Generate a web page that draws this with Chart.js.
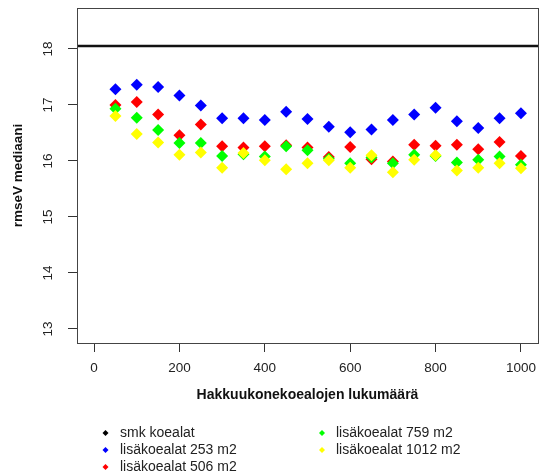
<!DOCTYPE html>
<html>
<head>
<meta charset="utf-8">
<script src="https://cdn.jsdelivr.net/npm/chart.js@4.4.1/dist/chart.umd.min.js"></script>
<style>
  html, body { margin: 0; padding: 0; background: #fff; }
</style>
</head>
<body>
<canvas id="rmse-chart" width="539" height="474"></canvas>
<script>
// number of harvester plots (x)
const plotCounts = [50, 100, 150, 200, 250, 300, 350, 400, 450, 500,
                    550, 600, 650, 700, 750, 800, 850, 900, 950, 1000];

// reference level: smk plots only
const smkValue = 18.05;

const area253 = [17.28, 17.36, 17.32, 17.17, 16.99, 16.76, 16.76, 16.73, 16.88, 16.75,
                 16.61, 16.51, 16.56, 16.73, 16.83, 16.95, 16.71, 16.59, 16.76, 16.85];
const area506 = [17.00, 17.05, 16.83, 16.46, 16.65, 16.26, 16.24, 16.26, 16.28, 16.24,
                 16.07, 16.25, 16.03, 15.99, 16.29, 16.27, 16.29, 16.21, 16.34, 16.09];
const area759 = [16.93, 16.77, 16.55, 16.32, 16.32, 16.09, 16.12, 16.08, 16.26, 16.19,
                 16.04, 15.96, 16.06, 15.96, 16.11, 16.09, 15.97, 16.02, 16.08, 15.93];
const area1012 = [16.80, 16.48, 16.33, 16.11, 16.15, 15.88, 16.14, 16.01, 15.85, 15.96,
                  16.01, 15.88, 16.10, 15.80, 16.02, 16.10, 15.83, 15.88, 15.96, 15.87];

const seriesLabels = ["smk koealat", "lisäkoealat 253 m2", "lisäkoealat 506 m2",
                      "lisäkoealat 759 m2", "lisäkoealat 1012 m2"];
const seriesColors = ["#000000", "#0000ff", "#ff0000", "#00ff00", "#ffff00"];

const xTicks = [0, 200, 400, 600, 800, 1000];
const yTicks = [13, 14, 15, 16, 17, 18];
const xLimits = [-40, 1040];
const yLimits = [12.75, 18.73];

const fontFamily = '"Liberation Sans", Arial, sans-serif';

function toPoints(values){
  return plotCounts.map(function(x, i){ return {x: x, y: values[i]}; });
}

function scatterSet(idx, values){
  return {
    type: 'scatter',
    label: seriesLabels[idx],
    data: toPoints(values),
    pointStyle: 'rectRot',
    pointRadius: 6,
    pointHoverRadius: 6,
    borderWidth: 0,
    backgroundColor: seriesColors[idx],
    borderColor: seriesColors[idx],
    order: 5 - idx
  };
}

// R-style box around the plot region
const plotFrame = {
  id: 'plotFrame',
  afterDraw(chart){
    const a = chart.chartArea;
    const ctx = chart.ctx;
    ctx.save();
    ctx.strokeStyle = '#444';
    ctx.lineWidth = 1;
    ctx.strokeRect(a.left + 0.5, a.top + 0.5, a.right - a.left, a.bottom - a.top);
    ctx.restore();
  }
};

// legend in two columns, filled column by column
const bottomLegend = {
  id: 'bottomLegend',
  afterDraw(chart){
    const ctx = chart.ctx;
    const cols = [{dot: 105.5, text: 120}, {dot: 322, text: 336}];
    const rows = [433, 450, 467];
    ctx.save();
    ctx.font = '14px ' + fontFamily;
    ctx.textBaseline = 'middle';
    ctx.textAlign = 'left';
    chart.data.datasets.forEach(function(ds, i){
      const col = cols[Math.floor(i / 3)];
      const y = rows[i % 3];
      ctx.fillStyle = seriesColors[i];
      ctx.beginPath();
      ctx.moveTo(col.dot, y - 3);
      ctx.lineTo(col.dot + 3, y);
      ctx.lineTo(col.dot, y + 3);
      ctx.lineTo(col.dot - 3, y);
      ctx.closePath();
      ctx.fill();
      ctx.fillStyle = '#222';
      ctx.fillText(ds.label, col.text, y);
    });
    ctx.restore();
  }
};

let datasets = [{
  type: 'line',
  label: seriesLabels[0],
  data: [{x: xLimits[0], y: smkValue}, {x: xLimits[1], y: smkValue}],
  borderColor: '#111',
  backgroundColor: '#000',
  borderWidth: 2.5,
  pointRadius: 0,
  fill: false,
  order: 6
}];
datasets.push(scatterSet(1, area253));
datasets.push(scatterSet(2, area506));
datasets.push(scatterSet(3, area759));
datasets.push(scatterSet(4, area1012));

function plainLabel(value){
  return String(value);
}

new Chart(document.getElementById('rmse-chart'), {
  type: 'scatter',
  data: { datasets: datasets },
  options: {
    responsive: false,
    animation: false,
    layout: { autoPadding: false, padding: { top: 8, right: 1, bottom: 0, left: 0 } },
    plugins: {
      legend: { display: false },
      tooltip: { enabled: false }
    },
    scales: {
      x: {
        type: 'linear',
        min: xLimits[0],
        max: xLimits[1],
        afterBuildTicks: function(scale){
          scale.ticks = xTicks.map(function(v){ return {value: v}; });
        },
        afterFit: function(scale){
          scale.height = 131;
          scale.paddingLeft = 0;
          scale.paddingRight = 0;
        },
        border: { display: false },
        grid: { drawOnChartArea: false, drawTicks: true, tickLength: 9, color: '#333' },
        ticks: {
          color: '#222',
          padding: 8,
          maxRotation: 0,
          callback: plainLabel,
          font: { family: fontFamily, size: 13.5 }
        },
        title: {
          display: true,
          text: 'Hakkuukonekoealojen lukumäärä',
          color: '#111',
          font: { family: fontFamily, size: 14, weight: 'bold' },
          padding: { top: 0, bottom: 70 }
        }
      },
      y: {
        type: 'linear',
        min: yLimits[0],
        max: yLimits[1],
        afterBuildTicks: function(scale){
          scale.ticks = yTicks.map(function(v){ return {value: v}; });
        },
        afterFit: function(scale){
          scale.width = 77;
          scale.paddingTop = 0;
          scale.paddingBottom = 0;
        },
        border: { display: false },
        grid: { drawOnChartArea: false, drawTicks: true, tickLength: 9, color: '#333' },
        ticks: {
          color: '#222',
          padding: 12,
          minRotation: 90,
          maxRotation: 90,
          crossAlign: 'center',
          callback: plainLabel,
          font: { family: fontFamily, size: 13.5 }
        },
        title: {
          display: true,
          text: 'rmseV mediaani',
          color: '#111',
          font: { family: fontFamily, size: 13.5, weight: 'bold' },
          padding: { top: 10, bottom: 0 }
        }
      }
    }
  },
  plugins: [plotFrame, bottomLegend]
});
</script>
</body>
</html>
